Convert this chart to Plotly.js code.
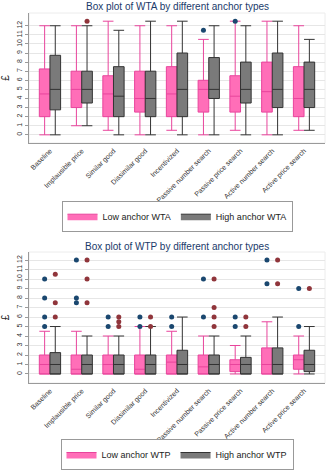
<!DOCTYPE html>
<html><head><meta charset="utf-8">
<script src="https://cdn.plot.ly/plotly-3.0.1.min.js"></script>
<style>html,body{margin:0;padding:0;background:#fff}#c{width:328px;height:470px}</style>
</head><body><div id="c"></div>
<script>
var categories = ["Baseline","Implausible price","Similar good","Dissimilar good","Incentivized","Passive number search","Passive price search","Active number search","Active price search"];

// WTA – low anchor
var wtaLowMin = [0,1,0.5,0,0.5,0,0.5,0,0.5];
var wtaLowQ1  = [2,3,2,2.5,2,2.5,2.5,2.5,2];
var wtaLowMed = [4.5,5,4.5,4,4.5,5,4.25,4.75,4];
var wtaLowQ3  = [7.25,7,6.5,7,7.5,6,6.5,8,7.5];
var wtaLowMax = [12,12,12.5,12,12,10.5,12.5,12.5,12];
// WTA – high anchor
var wtaHighMin = [0,1,0,0,0,0,0,0,0.5];
var wtaHighQ1  = [2.75,3.5,2,2,2,4,3.5,3,3];
var wtaHighMed = [5,5,4.25,4,5,5,5,5,5];
var wtaHighQ3  = [8.75,7,7.5,7,9,8.5,8,9,8];
var wtaHighMax = [12,12,11.5,12.5,12.5,12,12,12.5,10.5];
// WTA outliers
var wtaLowOutCat = ["Passive number search","Passive price search"];
var wtaLowOutVal = [11.5,12.5];
var wtaHighOutCat = ["Implausible price"];
var wtaHighOutVal = [12.5];

// WTP – low anchor
var wtpLowMin = [0,0,0,0,0,0,0,0,0];
var wtpLowQ1  = [0,0,0,0,0,0,0.25,0,0.5];
var wtpLowMed = [1,0.5,1,0.5,1.25,0.75,1,1,1.5];
var wtpLowQ3  = [2,2,2,2,2,2,1.5,2.75,2];
var wtpLowMax = [4.5,4.5,4,5,4.5,4,3,5.5,4];
// WTP – high anchor
var wtpHighMin = [0,0,0,0,0,0,0,0,0];
var wtpHighQ1  = [0,0,0,0,0,0,0,0,0.25];
var wtpHighMed = [1,1,1,1,1,1,1,1,1];
var wtpHighQ3  = [2.25,2,2,2,2.5,2,1.75,2.75,2.5];
var wtpHighMax = [5,4,4,5,6,4,4,6,5];
// WTP outliers
var wtpLowOutCat = ["Baseline","Baseline","Baseline","Baseline","Implausible price","Implausible price","Implausible price","Similar good","Similar good","Dissimilar good","Dissimilar good","Incentivized","Incentivized","Passive number search","Passive number search","Passive price search","Passive price search","Active number search","Active number search","Active price search","Active price search"];
var wtpLowOutVal = [5,6,8,10,7.5,8,12,5,6,5,6,5,6,6,10,5,6,9.5,12,5,9];
var wtpHighOutCat = ["Baseline","Baseline","Baseline","Implausible price","Implausible price","Implausible price","Similar good","Similar good","Similar good","Dissimilar good","Dissimilar good","Passive number search","Passive number search","Passive number search","Passive number search","Passive price search","Passive price search","Active number search","Active number search","Active price search"];
var wtpHighOutVal = [6,7.5,10.5,7.5,10,12,5,5.5,6,5,6,5,6,7,10,5,6,9.5,12,9];

var pinkFill = "#ff6eb8", pinkLine = "#e8449c";
var grayFill = "#7a7a7a", grayLine = "#333333";
var navy = "#1a476f", maroon = "#90353b";

function box(name, q1, med, q3, lo, hi, fill, line, xa, ya, og) {
  return {type:"box", name:name, x:categories, q1:q1, median:med, q3:q3,
    lowerfence:lo, upperfence:hi, fillcolor:fill, line:{color:line, width:1},
    whiskerwidth:1, boxpoints:false, xaxis:xa, yaxis:ya, showlegend:false,
    offsetgroup:og, alignmentgroup:xa, hoverinfo:"skip"};
}
function pts(cat, val, color, xa, ya, og) {
  return {type:"scatter", mode:"markers", x:cat, y:val, marker:{color:color, size:5},
    xaxis:xa, yaxis:ya, showlegend:false, offsetgroup:og, alignmentgroup:xa, hoverinfo:"skip"};
}
function legItem(name, fill, line, xa, ya, leg) {
  return {type:"scatter", mode:"lines", x:[null], y:[null], name:name, fill:"toself",
    fillcolor:fill, line:{color:line, width:1}, xaxis:xa, yaxis:ya, legend:leg,
    showlegend:true, hoverinfo:"skip"};
}

var data = [
  box("Low anchor WTA", wtaLowQ1, wtaLowMed, wtaLowQ3, wtaLowMin, wtaLowMax, pinkFill, pinkLine, "x", "y", "a"),
  box("High anchor WTA", wtaHighQ1, wtaHighMed, wtaHighQ3, wtaHighMin, wtaHighMax, grayFill, grayLine, "x", "y", "b"),
  pts(wtaLowOutCat, wtaLowOutVal, navy, "x", "y", "a"),
  pts(wtaHighOutCat, wtaHighOutVal, maroon, "x", "y", "b"),
  box("Low anchor WTP", wtpLowQ1, wtpLowMed, wtpLowQ3, wtpLowMin, wtpLowMax, pinkFill, pinkLine, "x2", "y2", "a"),
  box("High anchor WTP", wtpHighQ1, wtpHighMed, wtpHighQ3, wtpHighMin, wtpHighMax, grayFill, grayLine, "x2", "y2", "b"),
  pts(wtpLowOutCat, wtpLowOutVal, navy, "x2", "y2", "a"),
  pts(wtpHighOutCat, wtpHighOutVal, maroon, "x2", "y2", "b"),
  legItem("Low anchor WTA", pinkFill, pinkLine, "x", "y", "legend"),
  legItem("High anchor WTA", grayFill, grayLine, "x", "y", "legend"),
  legItem("Low anchor WTP", pinkFill, pinkLine, "x2", "y2", "legend2"),
  legItem("High anchor WTP", grayFill, grayLine, "x2", "y2", "legend2")
];

var tickvals = [0,1,2,3,4,5,6,7,8,9,10,11,12];
function yax(domain, range) {
  return {domain:domain, range:range, tickvals:tickvals, tickangle:-90,
    tickfont:{size:7, color:"#333"}, showgrid:true, gridcolor:"#e6e6e6", gridwidth:1,
    zeroline:false, showline:true, linecolor:"#9a9a9a", linewidth:1,
    ticks:"outside", ticklen:3, tickcolor:"#9a9a9a",
    title:{text:"£", font:{size:10, color:"#222"}, standoff:4}};
}
function xax(anchor) {
  return {anchor:anchor, domain:[0,1], type:"category", range:[-0.66, 8.66], tickangle:-45,
    tickfont:{size:7, color:"#333"}, showgrid:false, showline:true, linecolor:"#9a9a9a",
    ticks:"", zeroline:false};
}

var layout = {
  width:328, height:470, margin:{l:29, r:3, t:0, b:0},
  paper_bgcolor:"#fff", plot_bgcolor:"#fff",
  font:{family:"Liberation Sans, Arial, sans-serif", color:"#333"},
  boxmode:"group", boxgap:0.33, boxgroupgap:0,
  scattermode:"group", scattergap:0.33,
  xaxis:xax("y"), yaxis:yax([0.6957,0.9723],[-0.9,13.4]),
  xaxis2:xax("y2"), yaxis2:yax([0.1851,0.4638],[-0.95,12.85]),
  legend:{orientation:"h", x:0.5, xanchor:"center", y:0.540, yanchor:"middle",
    bordercolor:"#999", borderwidth:1, font:{size:9, color:"#222"}, bgcolor:"#fff",
    itemwidth:30, tracegroupgap:0},
  legend2:{orientation:"h", x:0.5, xanchor:"center", y:0.032, yanchor:"middle",
    bordercolor:"#999", borderwidth:1, font:{size:9, color:"#222"}, bgcolor:"#fff",
    itemwidth:30, tracegroupgap:0},
  annotations:[
    {text:"Box plot of WTA by different anchor types", xref:"paper", yref:"paper", x:0.5, y:1-6/470,
     xanchor:"center", yanchor:"middle", showarrow:false, font:{size:10, color:"#1a3a6a"}},
    {text:"Box plot of WTP by different anchor types", xref:"paper", yref:"paper", x:0.5, y:1-246/470,
     xanchor:"center", yanchor:"middle", showarrow:false, font:{size:10, color:"#1a3a6a"}}
  ],
  shapes:[
    {type:"rect", xref:"x domain", yref:"y domain", x0:0, x1:1, y0:0, y1:1, line:{color:"#ececec", width:1}, layer:"below"},
    {type:"rect", xref:"x2 domain", yref:"y2 domain", x0:0, x1:1, y0:0, y1:1, line:{color:"#ececec", width:1}, layer:"below"}
  ]
};
Plotly.newPlot("c", data, layout, {displayModeBar:false, staticPlot:true});
</script></body></html>
